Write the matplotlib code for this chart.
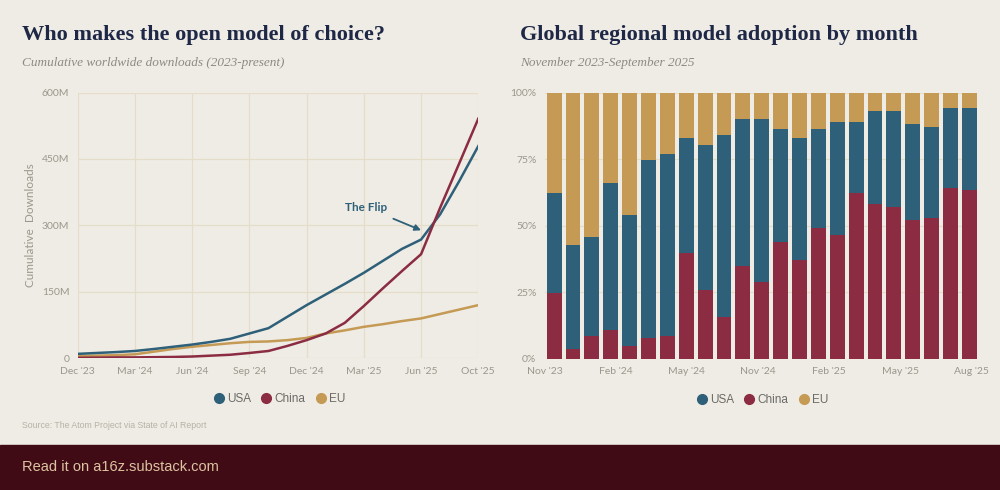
import numpy as np
import matplotlib
matplotlib.use("Agg")
import matplotlib.pyplot as plt
from matplotlib.lines import Line2D

# cumulative downloads (millions), monthly Dec '23 .. Sep '25
usa_dl = [10, 12, 14, 16.5, 21, 26, 31, 37, 44, 56, 68, 94, 120, 144, 168, 193, 220, 247, 268, 325, 400, 479]
china_dl = [1, 1.5, 2, 2, 2.5, 3, 4, 6, 8, 12, 16.5, 28, 41, 56, 80, 118, 158, 197, 235, 340, 440, 541]
eu_dl = [5, 6, 7, 9, 15, 21, 26, 30, 34, 37, 38, 41, 46, 56, 63, 71, 77, 84, 90, 100, 110, 120]
left_ticks = ["Dec '23", "Mar '24", "Jun '24", "Sep '24", "Dec '24", "Mar '25", "Jun '25", "Oct '25"]

# monthly share (%), Nov '23 .. Sep '25
china_share = [24.6, 3.8, 8.6, 10.8, 4.9, 7.9, 8.6, 39.8, 25.9, 15.8, 35, 28.8, 43.9, 37,
               49.1, 46.5, 62.2, 58.1, 57, 52.1, 53, 64.3, 63.3]
usa_china_share = [62.2, 42.9, 45.6, 65.9, 54, 74.8, 77, 83.1, 80.2, 84.1, 90, 90, 86.2, 83.1,
                   86.2, 89.1, 89.1, 93.1, 93.1, 88.2, 87.2, 94.1, 94.1]
right_ticks = ["Nov '23", "Feb '24", "May '24", "Nov '24", "Feb '25", "May '25", "Aug '25"]

usa_share = [a - b for a, b in zip(usa_china_share, china_share)]
eu_share = [100 - a for a in usa_china_share]

BG = "#efece5"
USA_C = "#2e6079"
CHINA_C = "#8b2c42"
EU_C = "#c59a54"
GRID = "#e5ddc8"
TICK = "#9b978c"
NAVY = "#1e2846"

sans = ["Lato", "DejaVu Sans"]
narrow = ["Liberation Sans Narrow", "Liberation Sans", "DejaVu Sans"]
serif = ["Liberation Serif", "DejaVu Serif"]

fig = plt.figure(figsize=(10, 4.9), dpi=100, facecolor=BG)

# titles
fig.text(0.022, 0.928, "Who makes the open model of choice?", family=serif, weight="bold",
         fontsize=16, color=NAVY, va="center")
fig.text(0.022, 0.871, "Cumulative worldwide downloads (2023-present)", family=serif, style="italic",
         fontsize=9.5, color="#8d8a82", va="center")
fig.text(0.5205, 0.928, "Global regional model adoption by month", family=serif, weight="bold",
         fontsize=16, color=NAVY, va="center")
fig.text(0.5205, 0.871, "November 2023-September 2025", family=serif, style="italic",
         fontsize=9.5, color="#8d8a82", va="center")

# left: line chart
ax1 = fig.add_axes([0.0777, 0.2688, 0.4006, 0.5424])
ax1.set_facecolor(BG)
months = np.arange(len(usa_dl))
ax1.plot(months, usa_dl, color=USA_C, lw=1.8, zorder=3)
ax1.plot(months, eu_dl, color=EU_C, lw=1.8, zorder=2)
ax1.plot(months, china_dl, color=CHINA_C, lw=1.8, zorder=4)
ax1.set_xlim(0, 21)
ax1.set_ylim(0, 600)
ax1.set_xticks(np.arange(0, 22, 3))
ax1.set_xticklabels(left_ticks)
ax1.set_yticks([0, 150, 300, 450, 600])
ax1.set_yticklabels(["0", "150M", "300M", "450M", "600M"])
ax1.grid(True, color=GRID, lw=0.9)
ax1.set_axisbelow(True)
for s in ax1.spines.values():
    s.set_visible(False)
ax1.tick_params(length=0, labelsize=7.5, colors=TICK, pad=6)
for lab in ax1.get_xticklabels() + ax1.get_yticklabels():
    lab.set_family(sans)
ax1.set_ylabel("Cumulative  Downloads", family=sans, fontsize=8.5, color=TICK, labelpad=4)
ax1.annotate("The Flip", xy=(18.0, 289), xytext=(15.1, 341), ha="center", va="center",
             fontsize=8.5, weight="bold", color=USA_C, family=sans,
             arrowprops=dict(arrowstyle="-|>", color=USA_C, lw=1.3, mutation_scale=9,
                             shrinkA=6, shrinkB=0))

# right: stacked bars
ax2 = fig.add_axes([0.5447, 0.268, 0.4322, 0.5429])
ax2.set_facecolor(BG)
idx = np.arange(len(china_share))
ax2.bar(idx, china_share, width=0.79, color=CHINA_C, zorder=3)
ax2.bar(idx, usa_share, width=0.79, bottom=china_share, color=USA_C, zorder=3)
ax2.bar(idx, eu_share, width=0.79, bottom=usa_china_share, color=EU_C, zorder=3)
ax2.set_xlim(-0.4, 22.4)
ax2.set_ylim(0, 100)
ax2.set_yticks([0, 25, 50, 75, 100])
ax2.set_yticklabels(["0%", "25%", "50%", "75%", "100%"])
ax2.set_xticks(np.linspace(-0.5, 22.1, len(right_ticks)))
ax2.set_xticklabels(right_ticks)
ax2.grid(True, axis="y", color=GRID, lw=0.9)
ax2.set_axisbelow(True)
for s in ax2.spines.values():
    s.set_visible(False)
ax2.tick_params(length=0, labelsize=7.5, colors=TICK, pad=6)
for lab in ax2.get_xticklabels() + ax2.get_yticklabels():
    lab.set_family(sans)

# legends
handles = [Line2D([], [], marker="o", ls="", markersize=7, color=c) for c in (USA_C, CHINA_C, EU_C)]
for ax in (ax1, ax2):
    leg = ax.legend(handles, ["USA", "China", "EU"], loc="center", bbox_to_anchor=(0.5, -0.155),
                    ncol=3, frameon=False, handletextpad=0.0, columnspacing=0.6,
                    handlelength=1.4, prop=dict(family=narrow, size=8.5))
    for t in leg.get_texts():
        t.set_color("#6b6a66")

fig.text(0.022, 0.131, "Source: The Atom Project via State of AI Report", family=narrow,
         fontsize=6.3, color="#b7b2a6", va="center")

# footer band
fig.patches.append(plt.Rectangle((0, 0), 1, 0.092, transform=fig.transFigure,
                                 color="#410b16", zorder=0))
fig.text(0.022, 0.046, "Read it on a16z.substack.com", family=narrow, fontsize=10.5,
         color="#dcc4a0", va="center")

fig.savefig("out.png", dpi=100, facecolor=BG)
